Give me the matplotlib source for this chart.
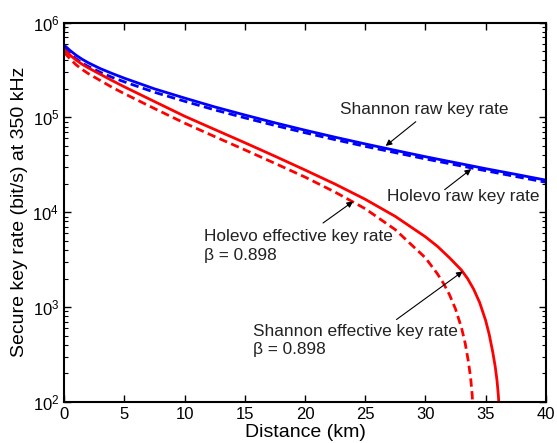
import numpy as np
import matplotlib
matplotlib.use('Agg')
import matplotlib.pyplot as plt

plt.rcParams['font.family'] = ['Liberation Sans', 'DejaVu Sans']
plt.rcParams['mathtext.fontset'] = 'custom'
plt.rcParams['mathtext.rm'] = 'Liberation Sans'
plt.rcParams['mathtext.it'] = 'Liberation Sans:italic'

#raw key rates (blue)
d_raw = [0, 0.5, 1, 1.5, 2, 3, 4, 5, 7.5, 10, 12.5, 15, 17.5, 20, 22.5, 25, 27.5,
         30, 32.5, 35, 37.5, 40]
shannon_raw = [5.79e5, 5.07e5, 4.52e5, 4.10e5, 3.77e5, 3.27e5, 2.90e5, 2.59e5, 2.00e5,
               1.60e5, 1.29e5, 1.06e5, 8.77e4, 7.33e4, 6.18e4, 5.25e4, 4.49e4, 3.85e4,
               3.33e4, 2.88e4, 2.51e4, 2.18e4]
holevo_raw = [5.41e5, 4.68e5, 4.14e5, 3.74e5, 3.44e5, 2.99e5, 2.64e5, 2.37e5, 1.84e5,
              1.48e5, 1.20e5, 9.89e4, 8.22e4, 6.89e4, 5.82e4, 4.95e4, 4.25e4, 3.65e4,
              3.16e4, 2.74e4, 2.38e4, 2.07e4]

#effective key rates (red)
d_shannon_eff = [0, 0.5, 1, 1.5, 2, 3, 4, 5, 7.5, 10, 12.5, 15, 17.5, 20, 22.5, 25,
                 27.5, 30, 31, 32, 33, 33.5, 34, 34.5, 35, 35.3, 35.6, 35.8, 35.95,
                 36.05, 36.12, 36.2]
shannon_eff = [5.2e5, 4.53e5, 4.02e5, 3.63e5, 3.33e5, 2.85e5, 2.44e5, 2.10e5, 1.47e5,
               1.03e5, 7.46e4, 5.41e4, 3.90e4, 2.79e4, 1.98e4, 1.37e4, 9.04e3, 5.51e3,
               4.37e3, 3.31e3, 2.45e3, 2.0e3, 1.55e3, 1.12e3, 724, 513, 331, 234, 166,
               120, 89, 50]
d_holevo_eff = [0, 0.5, 1, 1.5, 2, 3, 4, 5, 7.5, 10, 12.5, 15, 17.5, 20, 22.5, 25,
                27.5, 30, 31, 31.5, 32, 32.5, 33, 33.3, 33.55, 33.75, 33.88, 33.96, 34.02]
holevo_eff = [4.85e5, 4.13e5, 3.58e5, 3.20e5, 2.90e5, 2.45e5, 2.07e5, 1.78e5, 1.24e5,
              8.71e4, 6.28e4, 4.55e4, 3.28e4, 2.35e4, 1.63e4, 1.09e4, 6.55e3, 3.31e3,
              2.24e3, 1.78e3, 1.35e3, 955, 603, 417, 275, 182, 120, 79, 40]

fig = plt.figure(figsize=(5.57, 4.43), dpi=100)
ax = fig.add_axes([0.115, 0.0926, 0.865, 0.8566])

dash = (3, 1.6)
ax.plot(d_raw, shannon_raw, color='b', lw=2)
ax.plot(d_raw, holevo_raw, color='b', lw=2, ls='--', dashes=dash)
ax.plot(d_shannon_eff, shannon_eff, color='r', lw=2)
ax.plot(d_holevo_eff, holevo_eff, color='r', lw=2, ls='--', dashes=dash)

ax.set_yscale('log')
ax.set_xlim(0, 40)
ax.set_ylim(1e2, 1e6)
ax.set_xticks(np.arange(0, 41, 5))
ax.set_xlabel('Distance (km)', fontsize=14)
ax.set_ylabel('Secure key rate (bit/s) at 350 kHz', fontsize=14)
ax.xaxis.set_label_coords(0.5, -0.058)
ax.yaxis.set_label_coords(-0.075, 0.5)
ax.tick_params(which='both', direction='in', top=True, right=True, labelsize=12)
ax.tick_params(which='major', length=5, width=1)
ax.tick_params(which='minor', length=3, width=0.8)
for s in ax.spines.values():
    s.set_linewidth(1.5)

arrow = dict(arrowstyle='-|>', color='k', lw=0.8, mutation_scale=9, shrinkA=0, shrinkB=0)
fs = 12.4
tc = '#222222'

ax.text(22.9, 1.2e5, 'Shannon raw key rate', fontsize=fs, va='center', color=tc)
ax.annotate('', xy=(26.7, 5.0e4), xytext=(29.2, 9.0e4), arrowprops=arrow)

ax.text(26.8, 1.47e4, 'Holevo raw key rate', fontsize=fs, va='center', color=tc)
ax.annotate('', xy=(33.8, 2.85e4), xytext=(31.6, 1.73e4), arrowprops=arrow)

ax.text(11.6, 4.4e3, 'Holevo effective key rate\nβ = 0.898', fontsize=fs, va='center',
        linespacing=1.3, color=tc)
ax.annotate('', xy=(24.0, 1.3e4), xytext=(21.5, 7.7e3), arrowprops=arrow)

ax.text(15.7, 444, 'Shannon effective key rate\nβ = 0.898', fontsize=fs, va='center',
        linespacing=1.3, color=tc)
ax.annotate('', xy=(33.1, 2.38e3), xytext=(27.6, 740), arrowprops=arrow)

fig.savefig('out.png', dpi=100)
